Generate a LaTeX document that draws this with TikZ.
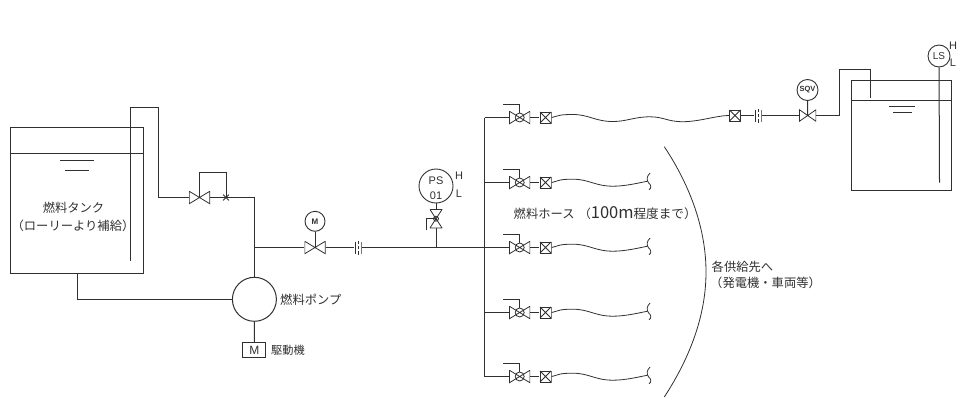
\documentclass[tikz,border=0pt]{standalone}
\usepackage{fontspec}
\setmainfont{Noto Sans CJK JP}
\setsansfont{Liberation Sans}
\usetikzlibrary{calc}
\usetikzlibrary{positioning,shapes.misc}
\definecolor{ink}{HTML}{303030}
\tikzset{
  pipe/.style={line width=1pt,draw=ink},
  thinline/.style={line width=.8pt,draw=ink},
  tank/.style={draw=ink,line width=1pt,inner sep=0pt},
  label/.style={text=ink,inner sep=0pt,font=\fontsize{12.3}{14}\selectfont},
  tag/.style={text=ink,inner sep=0pt,font=\sffamily\fontsize{11}{12}\selectfont},
  gauge/.style={draw=ink,line width=.9pt,circle,inner sep=0pt},
  valve/.style={inner sep=0pt,minimum width=21pt,minimum height=13pt,
    path picture={\draw[thinline] (-10.2,-6.2) -- (10.2,6.2) -- (10.2,-6.2) -- (-10.2,6.2) -- cycle;}},
  ballvalve/.style={inner sep=0pt,minimum width=21pt,minimum height=13pt,
    path picture={\draw[thinline] (-10.2,-6.2) -- (10.2,6.2) -- (10.2,-6.2) -- (-10.2,6.2) -- cycle (0,0) circle (4.5);}},
  strainer/.style={inner sep=0pt,minimum width=12pt,minimum height=12pt,
    path picture={\draw[line width=1pt,draw=ink] (-5.5,-5.5) rectangle (5.5,5.5);
      \draw[thinline] (-5.5,-5.5) -- (5.5,5.5) (-5.5,5.5) -- (5.5,-5.5);}},
  union/.style={inner sep=0pt,minimum width=7pt,minimum height=14pt,
    path picture={\draw[thinline] (-3,-6) -- (-3,6) (3,-6) -- (3,6) (0,-7) -- (0,-3.5) (0,-1.5) -- (0,1.5) (0,3.5) -- (0,7);}},
  hoseend/.pic={\draw[thinline] (2.5,-8) .. controls (-1,-5) and (-1,-1) .. (1,1.5) .. controls (4,4) and (4,7) .. (1.5,8.5);}
}
\begin{document}
\begin{tikzpicture}[x=1pt,y=-1pt]
    \useasboundingbox (0,0) rectangle (960,402);
    % fuel tank
    \node[tank,minimum width=133pt,minimum height=146pt] (tankA) at (76.5,200) {};
    \draw[pipe] (tankA.west |- 0,153.7) -- (tankA.east |- 0,153.7);
    \draw[thinline] (60,160.7) -- (94,160.7);
    \draw[thinline] (65,170) -- (89,170);
    \node[label] (nameA) at (73.5,208) {燃料タンク};
    \node[label] (nameB) at (73,225.5) {（ローリーより補給）};
    \node[gauge,line width=1pt,minimum size=44pt] (pump) at (254.4,299.3) {};
    \node[label,anchor=west] (namePump) at (280,299.5) {燃料ポンプ};
    \node[draw=ink,line width=.9pt,inner sep=0pt,minimum width=23pt,minimum height=15pt,text=ink,font=\sffamily\fontsize{12}{12}\selectfont] (motor) at (254.3,350) {M};
    \node[label,anchor=west,font=\fontsize{11.2}{12}\selectfont] (nameMotor) at (271,350) {駆動機};
    \draw[pipe] (pump) -- (motor);
    \draw[pipe] (tankA.south -| 77,0) -- (77,299.3) -- (pump);
    % suction line and relief
    \node[valve] (vb) at (199.5,197.5) {};
    \node[cross out,draw=ink,line width=.8pt,inner sep=0pt,minimum size=5pt] (xb) at (226,197.5) {};
    \coordinate (jn) at (254.4,247.5);
    \draw[pipe] (130.5,260.7) -- (130.5,107.5) -- (158.5,107.5) -- (158.5,197.5) -- (vb);
    \draw[pipe] (vb) -- (xb.center) -- (254.4,197.5) -- (jn) -- (pump);
    \draw[thinline] (vb.center) -- ++(0,-24.8) -- ++(26.5,0) -- (xb.center);
    % main line
    \node[valve] (vm) at (315,247.5) {};
    \node[gauge,minimum size=20pt,font=\sffamily\bfseries\fontsize{8}{8}\selectfont,text=ink] (gm) at (315,221.3) {M};
    \node[union] (ua) at (358,247.5) {};
    \coordinate (jp) at (436,247.5);
    \coordinate (jh) at (484,247.5);
    \draw[pipe] (jn) -- (vm);
    \draw[pipe] (gm) -- (vm.center);
    \draw[pipe] (vm) -- (ua);
    \draw[pipe] (ua) -- (jp) -- (jh);
    % pressure switch
    \node[gauge,minimum size=34pt] (ps) at (436,186) {};
    \node[tag] (psA) at (436,180.7) {PS};
    \node[tag] (psB) at (436,196) {01};
    \node[tag] (psH) at (459,176) {H};
    \node[tag] (psL) at (459,193.5) {L};
    \node[inner sep=0pt,minimum width=12.5pt,minimum height=19pt,
      path picture={\draw[thinline] (-6,-9.2) -- (6,9.2) -- (-6,9.2) -- (6,-9.2) -- cycle (0,0) circle (2.5);}] (vp) at (436,218.7) {};
    \draw[pipe] (ps) -- (vp);
    \draw[pipe] (vp) -- (jp);
    \draw[thinline] (vp.center) -- ++(-10,0) -- ++(0,11.5);
    % header
    \draw[pipe] (484.5,117.5) -- (484.5,376.5);
    % row 1
    \node[ballvalve] (v1) at (519.7,117.5) {};
    \node[strainer] (s1) at (545.5,117.5) {};
    \draw[pipe] (484.5,117.5) -- (v1);
    \draw[thinline] (v1) -- (s1);
    \draw[thinline] (v1.center) ++(0,-4.5) -- ++(0,-9) -- ++(-17,0);
    % row 2
    \node[ballvalve] (v2) at (519.7,182.5) {};
    \node[strainer] (s2) at (545.5,182.5) {};
    \coordinate (h2) at (647.5,181.2);
    \draw[pipe] (484.5,182.5) -- (v2);
    \draw[thinline] (v2) -- (s2);
    \draw[thinline] (v2.center) ++(0,-4.5) -- ++(0,-9) -- ++(-17,0);
    \draw[thinline] (s2.east) .. controls +(8,-2) and +(-14,0) .. (573,179.2) .. controls +(16,0) and +(-18,0) .. (613,186.2) .. controls +(12,0) and +(-10,2) .. (h2);
    \pic at (h2) {hoseend};
    % row 3
    \node[ballvalve] (v3) at (519.7,247.5) {};
    \node[strainer] (s3) at (545.5,247.5) {};
    \coordinate (h3) at (647.5,246.2);
    \draw[pipe] (jh) -- (v3);
    \draw[thinline] (v3) -- (s3);
    \draw[thinline] (v3.center) ++(0,-4.5) -- ++(0,-9) -- ++(-17,0);
    \draw[thinline] (s3.east) .. controls +(8,-2) and +(-14,0) .. (573,244.2) .. controls +(16,0) and +(-18,0) .. (613,251.2) .. controls +(12,0) and +(-10,2) .. (h3);
    \pic at (h3) {hoseend};
    % row 4
    \node[ballvalve] (v4) at (519.7,312.5) {};
    \node[strainer] (s4) at (545.5,312.5) {};
    \coordinate (h4) at (647.5,311.2);
    \draw[pipe] (484.5,312.5) -- (v4);
    \draw[thinline] (v4) -- (s4);
    \draw[thinline] (v4.center) ++(0,-4.5) -- ++(0,-9) -- ++(-17,0);
    \draw[thinline] (s4.east) .. controls +(8,-2) and +(-14,0) .. (573,309.2) .. controls +(16,0) and +(-18,0) .. (613,316.2) .. controls +(12,0) and +(-10,2) .. (h4);
    \pic at (h4) {hoseend};
    % row 5
    \node[ballvalve] (v5) at (519.7,376.5) {};
    \node[strainer] (s5) at (545.5,376.5) {};
    \coordinate (h5) at (647.5,375.2);
    \draw[pipe] (484.5,376.5) -- (v5);
    \draw[thinline] (v5) -- (s5);
    \draw[thinline] (v5.center) ++(0,-4.5) -- ++(0,-9) -- ++(-17,0);
    \draw[thinline] (s5.east) .. controls +(8,-2) and +(-14,0) .. (573,373.2) .. controls +(16,0) and +(-18,0) .. (613,380.2) .. controls +(12,0) and +(-10,2) .. (h5);
    \pic at (h5) {hoseend};
    % hose label and bracket
    \node[label,anchor=west] (nameHose) at (513.5,212.7) {燃料ホース\hspace{4pt}（{\fontsize{16.5}{18}\selectfont 100m}\fontsize{12.6}{14}\selectfont 程度まで）};
    \draw[thinline] (664.3,146.7) .. controls (691,187) and (706,230) .. (706,272) .. controls (706,314) and (691,356) .. (664.3,397);
    \node[label,anchor=west] (nameDest) at (711.5,267) {各供給先へ};
    \node[label,anchor=west] (nameDestB) at (710,283) {（発電機・車両等）};
    % long hose to the service tank
    \node[strainer] (s6) at (735,115.5) {};
    \node[union] (ub) at (758,115.5) {};
    \node[inner sep=0pt,minimum width=17pt,minimum height=12pt,
      path picture={\draw[thinline] (-8.2,-5.7) -- (8.2,5.7) -- (8.2,-5.7) -- (-8.2,5.7) -- cycle;}] (vs) at (807.7,115.5) {};
    \node[gauge,minimum size=21pt,font=\sffamily\bfseries\fontsize{7.5}{8}\selectfont,text=ink] (sqv) at (807.5,90) {SQV};
    \draw[thinline] (s1.east) .. controls +(8,-2) and +(-14,0) .. (573,114.5) .. controls +(16,0) and +(-18,0) .. (613,121.5) .. controls +(14,0) and +(-16,0) .. (650,116.8) .. controls +(14,0) and +(-16,0) .. (683,121.7) .. controls +(16,0) and +(-12,0) .. (s6.west);
    \draw[pipe] (s6) -- (ub);
    \draw[pipe] (ub) -- (vs);
    \draw[pipe] (sqv) -- (vs.center);
    % service tank
    \node[tank,minimum width=100pt,minimum height=109.3pt] (tankB) at (901.7,135.4) {};
    \draw[pipe] (tankB.west |- 0,100.5) -- (tankB.east |- 0,100.5);
    \draw[thinline] (889,106) -- (915,106);
    \draw[thinline] (893,112.7) -- (911.5,112.7);
    \draw[pipe] (vs) -- (839.5,115.5) -- (839.5,69.5) -- (870.5,69.5) -- (870.5,98.3);
    \node[gauge,minimum size=22pt,font=\sffamily\fontsize{10}{10}\selectfont,text=ink] (ls) at (939,56) {LS};
    \node[tag] (lsH) at (953,45.7) {H};
    \node[tag] (lsL) at (953,63) {L};
    \draw[pipe] (ls) -- (939.5,182.7);
  \end{tikzpicture}
\end{document}
